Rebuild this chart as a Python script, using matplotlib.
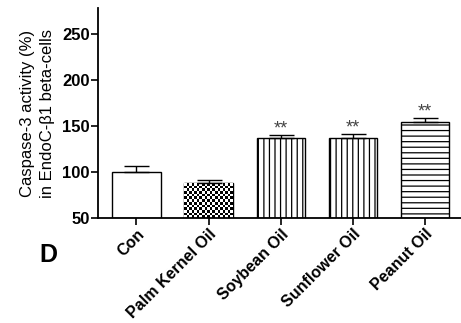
import numpy as np
import matplotlib
matplotlib.use("Agg")
import matplotlib.pyplot as plt

plt.rcParams["font.family"] = ["Liberation Sans", "DejaVu Sans"]
plt.rcParams["hatch.linewidth"] = 0.9

# ── Data ──────────────────────────────────────────────────────────────
groups = ["Con", "Palm Kernel Oil", "Soybean Oil", "Sunflower Oil", "Peanut Oil"]
means = [100, 88, 137, 137, 154]
errs = [6, 3, 3.5, 4.5, 4.5]
stars = ["", "", "**", "**", "**"]
hatches = [None, "check", "|||", "|||", "---"]
yticks = [50, 100, 150, 200, 250]

fig = plt.figure(figsize=(4.61, 3.23), dpi=100)
ax = fig.add_axes([0.213, 0.325, 0.787, 0.65])

x = np.arange(len(groups))
bars = ax.bar(x, [m - 50 for m in means], bottom=50, width=0.67,
              color="white", edgecolor="black", linewidth=1.0, zorder=2)
for b, h in zip(bars, hatches):
    if h and h != "check":
        b.set_hatch(h)

ax.errorbar(x, means, yerr=[np.zeros(len(errs)), errs], fmt="none",
            ecolor="black", elinewidth=1.0, capsize=9, capthick=1.0, zorder=3)

for xi, m, e, s in zip(x, means, errs, stars):
    if s:
        ax.text(xi, m + e - 3, s, ha="center", va="bottom",
                fontsize=13, color="#444444")

ax.set_ylim(50, 278)
ax.set_xlim(-0.53, 4.5)
ax.set_yticks(yticks)
ax.set_xticks(x)
ax.set_xticklabels(groups, rotation=45, ha="right", rotation_mode="anchor",
                   fontsize=11.5, fontweight="bold")
for lbl in ax.get_yticklabels():
    lbl.set_fontweight("bold")
    lbl.set_fontsize(12)
ax.tick_params(axis="both", direction="out", length=5, width=1.2, pad=1)
ax.tick_params(axis="x", pad=1)
ax.spines["top"].set_visible(False)
ax.spines["right"].set_visible(False)
ax.spines["left"].set_linewidth(1.3)
ax.spines["bottom"].set_linewidth(1.3)
ax.set_ylabel("Caspase-3 activity (%)\nin EndoC-β1 beta-cells", fontsize=12,
              labelpad=5, linespacing=1.4)

# checkerboard fill for the palm kernel bar
fig.canvas.draw()
for b, h in zip(bars, hatches):
    if h == "check":
        bb = b.get_window_extent()
        nx = int(round(bb.width / 2.6))
        ny = int(round(bb.height / 2.6))
        board = (np.indices((ny, nx)).sum(axis=0) % 2).astype(float)
        im = ax.imshow(board, cmap="gray_r", interpolation="nearest",
                       extent=[b.get_x(), b.get_x() + b.get_width(),
                               b.get_y(), b.get_y() + b.get_height()],
                       aspect="auto", zorder=2.5)
        im.set_clip_path(b)
ax.set_xlim(-0.53, 4.5)
ax.set_ylim(50, 278)

fig.text(0.085, 0.189, "D", fontsize=18, fontweight="bold")

fig.savefig("out.png", dpi=100)
